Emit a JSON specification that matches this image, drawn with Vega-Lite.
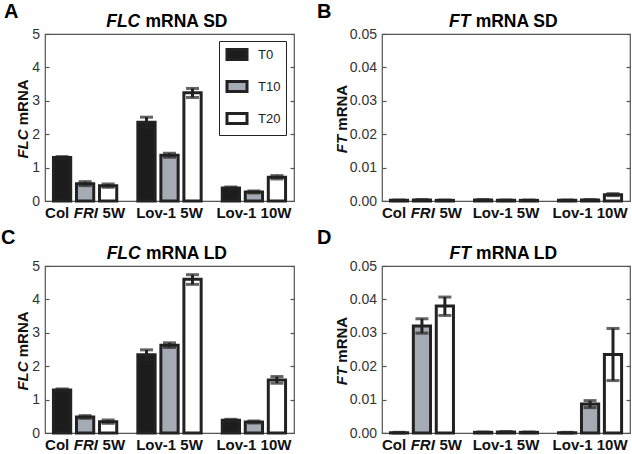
{
 "$schema": "https://vega.github.io/schema/vega-lite/v6.json",
 "padding": {"left": 0, "top": 1, "right": 0, "bottom": 0},
 "background": "white",
 "data": {"values": [
  {"p": "A", "g": "Col FRI 5W", "t": "T0", "m": 1.30, "lo": 1.27, "hi": 1.33},
  {"p": "A", "g": "Col FRI 5W", "t": "T10", "m": 0.52, "lo": 0.46, "hi": 0.58},
  {"p": "A", "g": "Col FRI 5W", "t": "T20", "m": 0.46, "lo": 0.41, "hi": 0.51},
  {"p": "A", "g": "Lov-1 5W", "t": "T0", "m": 2.36, "lo": 2.21, "hi": 2.51},
  {"p": "A", "g": "Lov-1 5W", "t": "T10", "m": 1.37, "lo": 1.31, "hi": 1.43},
  {"p": "A", "g": "Lov-1 5W", "t": "T20", "m": 3.24, "lo": 3.10, "hi": 3.37},
  {"p": "A", "g": "Lov-1 10W", "t": "T0", "m": 0.39, "lo": 0.36, "hi": 0.42},
  {"p": "A", "g": "Lov-1 10W", "t": "T10", "m": 0.27, "lo": 0.24, "hi": 0.30},
  {"p": "A", "g": "Lov-1 10W", "t": "T20", "m": 0.71, "lo": 0.66, "hi": 0.76},
  {"p": "B", "g": "Col FRI 5W", "t": "T0", "m": 0.0002, "lo": 0.0001, "hi": 0.0003},
  {"p": "B", "g": "Col FRI 5W", "t": "T10", "m": 0.0003, "lo": 0.0002, "hi": 0.0004},
  {"p": "B", "g": "Col FRI 5W", "t": "T20", "m": 0.0002, "lo": 0.0001, "hi": 0.0003},
  {"p": "B", "g": "Lov-1 5W", "t": "T0", "m": 0.0003, "lo": 0.0002, "hi": 0.0004},
  {"p": "B", "g": "Lov-1 5W", "t": "T10", "m": 0.0002, "lo": 0.0001, "hi": 0.0003},
  {"p": "B", "g": "Lov-1 5W", "t": "T20", "m": 0.0002, "lo": 0.0001, "hi": 0.0003},
  {"p": "B", "g": "Lov-1 10W", "t": "T0", "m": 0.0002, "lo": 0.0001, "hi": 0.0003},
  {"p": "B", "g": "Lov-1 10W", "t": "T10", "m": 0.0003, "lo": 0.0002, "hi": 0.0004},
  {"p": "B", "g": "Lov-1 10W", "t": "T20", "m": 0.0019, "lo": 0.0016, "hi": 0.0022},
  {"p": "C", "g": "Col FRI 5W", "t": "T0", "m": 1.29, "lo": 1.26, "hi": 1.32},
  {"p": "C", "g": "Col FRI 5W", "t": "T10", "m": 0.48, "lo": 0.44, "hi": 0.52},
  {"p": "C", "g": "Col FRI 5W", "t": "T20", "m": 0.34, "lo": 0.29, "hi": 0.39},
  {"p": "C", "g": "Lov-1 5W", "t": "T0", "m": 2.34, "lo": 2.19, "hi": 2.49},
  {"p": "C", "g": "Lov-1 5W", "t": "T10", "m": 2.63, "lo": 2.56, "hi": 2.70},
  {"p": "C", "g": "Lov-1 5W", "t": "T20", "m": 4.60, "lo": 4.45, "hi": 4.74},
  {"p": "C", "g": "Lov-1 10W", "t": "T0", "m": 0.38, "lo": 0.35, "hi": 0.41},
  {"p": "C", "g": "Lov-1 10W", "t": "T10", "m": 0.33, "lo": 0.30, "hi": 0.36},
  {"p": "C", "g": "Lov-1 10W", "t": "T20", "m": 1.59, "lo": 1.49, "hi": 1.69},
  {"p": "D", "g": "Col FRI 5W", "t": "T0", "m": 0.0001, "lo": 0.0000, "hi": 0.0002},
  {"p": "D", "g": "Col FRI 5W", "t": "T10", "m": 0.0320, "lo": 0.0299, "hi": 0.0342},
  {"p": "D", "g": "Col FRI 5W", "t": "T20", "m": 0.0380, "lo": 0.0352, "hi": 0.0407},
  {"p": "D", "g": "Lov-1 5W", "t": "T0", "m": 0.0002, "lo": 0.0001, "hi": 0.0003},
  {"p": "D", "g": "Lov-1 5W", "t": "T10", "m": 0.0003, "lo": 0.0002, "hi": 0.0004},
  {"p": "D", "g": "Lov-1 5W", "t": "T20", "m": 0.0002, "lo": 0.0001, "hi": 0.0003},
  {"p": "D", "g": "Lov-1 10W", "t": "T0", "m": 0.0001, "lo": 0.0000, "hi": 0.0002},
  {"p": "D", "g": "Lov-1 10W", "t": "T10", "m": 0.0087, "lo": 0.0076, "hi": 0.0097},
  {"p": "D", "g": "Lov-1 10W", "t": "T20", "m": 0.0235, "lo": 0.0157, "hi": 0.0313}
 ]},
 "columns": 2,
 "spacing": {"row": 65, "column": 88},
 "bounds": "flush",
 "resolve": {"scale": {"x": "independent", "y": "independent", "xOffset": "independent", "color": "independent"}},
 "concat": [
  {
   "width": 249, "height": 167,
   "title": {"text": "A", "anchor": "start", "frame": "group", "dx": -41, "dy": 10, "fontSize": 20, "fontWeight": "bold", "color": "#000", "offset": 0},
   "transform": [{"filter": "datum.p == 'A'"}],
   "resolve": {"axis": {"x": "independent", "y": "independent"}},
   "layer": [
    {
     "mark": {"type": "bar", "stroke": "#222", "strokeWidth": 3},
     "encoding": {
      "x": {"field": "g", "type": "nominal", "sort": ["Col FRI 5W", "Lov-1 5W", "Lov-1 10W"], "scale": {"paddingInner": 0.25, "paddingOuter": 0.1},
            "axis": {"orient": "bottom", "ticks": false, "labelExpr": "datum.value == 'Col FRI 5W' ? 'Col\u00a0\u00a0\u00a0\u00a0\u00a0\u00a0\u00a0\u00a05W' : datum.value", "labelAngle": 0, "labelFontSize": 15, "labelFontWeight": "bold", "labelColor": "#111", "labelPadding": 4, "title": null}},
      "xOffset": {"field": "t", "type": "nominal", "sort": ["T0", "T10", "T20"], "scale": {"paddingInner": 0.25}},
      "y": {"field": "m", "type": "quantitative", "scale": {"domain": [0, 5], "nice": false},
            "axis": {"orient": "left", "values": [0, 1, 2, 3, 4, 5], "tickSize": -4, "labelPadding": 9.5, "labelFontSize": 14, "labelColor": "#333", "title": "mRNA", "titleFontSize": 15, "titleFontWeight": "bold", "titleColor": "#111", "titleX": -18, "titleY": 67.8, "titleAngle": -90, "titleAlign": "center", "titleBaseline": "alphabetic"}},
      "color": {"field": "t", "type": "nominal", "scale": {"domain": ["T0", "T10", "T20"], "range": ["#1c1c1c", "#a6aab4", "#ffffff"]},
                "legend": {"orient": "none", "legendX": 174, "legendY": 7, "title": null, "symbolType": "M-1.43,-0.71H1.43V0.71H-1.43Z", "symbolSize": 196, "symbolStrokeColor": "#222", "symbolStrokeWidth": 3, "symbolOffset": 4.5, "labelOffset": 12.5, "rowPadding": 9, "padding": 5, "strokeColor": "#222", "fillColor": "white", "labelFont": "Liberation Sans", "labelFontSize": 13, "labelColor": "#222"}}
     }
    },
    {
     "mark": {"type": "rule", "color": "#222", "strokeWidth": 3},
     "encoding": {
      "x": {"field": "g", "type": "nominal", "sort": ["Col FRI 5W", "Lov-1 5W", "Lov-1 10W"], "scale": {"paddingInner": 0.25, "paddingOuter": 0.1},
            "axis": {"orient": "bottom", "ticks": false, "labelExpr": "datum.value == 'Col FRI 5W' ? 'FRI' : ''", "labelAngle": 0, "labelFontSize": 15, "labelFontWeight": "bold", "labelFontStyle": "italic", "labelColor": "#111", "labelPadding": 4, "labelOffset": 0.8, "title": null}},
      "xOffset": {"field": "t", "type": "nominal", "sort": ["T0", "T10", "T20"], "scale": {"paddingInner": 0.25}},
      "y": {"field": "lo", "type": "quantitative", "scale": {"domain": [0, 5], "nice": false},
            "axis": {"orient": "left", "labels": false, "ticks": false, "title": "FLC", "titleFontSize": 15, "titleFontWeight": "bold", "titleFontStyle": "italic", "titleColor": "#111", "titleX": -18, "titleY": 109.5, "titleAngle": -90, "titleAlign": "center", "titleBaseline": "alphabetic"}},
      "y2": {"field": "hi"}
     }
    },
    {
     "mark": {"type": "tick", "color": "#222", "thickness": 3, "size": 13},
     "encoding": {
      "x": {"field": "g", "type": "nominal", "sort": ["Col FRI 5W", "Lov-1 5W", "Lov-1 10W"], "scale": {"paddingInner": 0.25, "paddingOuter": 0.1},
            "axis": {"orient": "top", "ticks": false, "labels": false, "title": "FLC", "titleFontSize": 17.5, "titleFontWeight": "bold", "titleFontStyle": "italic", "titleColor": "#000", "titleX": 77.75, "titleY": -8, "titleAlign": "center", "titleBaseline": "alphabetic", "titleAngle": 0}},
      "xOffset": {"field": "t", "type": "nominal", "sort": ["T0", "T10", "T20"], "scale": {"paddingInner": 0.25}},
      "y": {"field": "hi", "type": "quantitative", "scale": {"domain": [0, 5], "nice": false},
            "axis": {"orient": "right", "values": [0, 1, 2, 3, 4, 5], "labels": false, "tickSize": -4, "title": null}}
     }
    },
    {
     "mark": {"type": "tick", "color": "#222", "thickness": 3, "size": 13},
     "encoding": {
      "x": {"field": "g", "type": "nominal", "sort": ["Col FRI 5W", "Lov-1 5W", "Lov-1 10W"], "scale": {"paddingInner": 0.25, "paddingOuter": 0.1},
            "axis": {"orient": "top", "ticks": false, "labels": false, "title": "mRNA SD", "titleFontSize": 17.5, "titleFontWeight": "bold", "titleColor": "#000", "titleX": 140.95, "titleY": -8, "titleAlign": "center", "titleBaseline": "alphabetic", "titleAngle": 0}},
      "xOffset": {"field": "t", "type": "nominal", "sort": ["T0", "T10", "T20"], "scale": {"paddingInner": 0.25}},
      "y": {"field": "lo", "type": "quantitative", "scale": {"domain": [0, 5], "nice": false}, "axis": null}
     }
    }
   ]
  },
  {
   "width": 248, "height": 167,
   "title": {"text": "B", "anchor": "start", "frame": "group", "dx": -65, "dy": 10, "fontSize": 20, "fontWeight": "bold", "color": "#000", "offset": 0},
   "transform": [{"filter": "datum.p == 'B'"}],
   "resolve": {"axis": {"x": "independent", "y": "independent"}},
   "layer": [
    {
     "mark": {"type": "bar", "stroke": "#222", "strokeWidth": 3},
     "encoding": {
      "x": {"field": "g", "type": "nominal", "sort": ["Col FRI 5W", "Lov-1 5W", "Lov-1 10W"], "scale": {"paddingInner": 0.25, "paddingOuter": 0.1},
            "axis": {"orient": "bottom", "ticks": false, "labelExpr": "datum.value == 'Col FRI 5W' ? 'Col\u00a0\u00a0\u00a0\u00a0\u00a0\u00a0\u00a0\u00a05W' : datum.value", "labelAngle": 0, "labelFontSize": 15, "labelFontWeight": "bold", "labelColor": "#111", "labelPadding": 4, "title": null}},
      "xOffset": {"field": "t", "type": "nominal", "sort": ["T0", "T10", "T20"], "scale": {"paddingInner": 0.25}},
      "y": {"field": "m", "type": "quantitative", "scale": {"domain": [0, 0.05], "nice": false},
            "axis": {"orient": "left", "values": [0, 0.01, 0.02, 0.03, 0.04, 0.05], "format": ".2f", "tickSize": -4, "labelPadding": 9.5, "labelFontSize": 14, "labelColor": "#333", "title": "mRNA", "titleFontSize": 15, "titleFontWeight": "bold", "titleColor": "#111", "titleX": -36, "titleY": 73.25, "titleAngle": -90, "titleAlign": "center", "titleBaseline": "alphabetic"}},
      "color": {"field": "t", "type": "nominal", "scale": {"domain": ["T0", "T10", "T20"], "range": ["#1c1c1c", "#a6aab4", "#ffffff"]}, "legend": null}
     }
    },
    {
     "mark": {"type": "rule", "color": "#222", "strokeWidth": 3},
     "encoding": {
      "x": {"field": "g", "type": "nominal", "sort": ["Col FRI 5W", "Lov-1 5W", "Lov-1 10W"], "scale": {"paddingInner": 0.25, "paddingOuter": 0.1},
            "axis": {"orient": "bottom", "ticks": false, "labelExpr": "datum.value == 'Col FRI 5W' ? 'FRI' : ''", "labelAngle": 0, "labelFontSize": 15, "labelFontWeight": "bold", "labelFontStyle": "italic", "labelColor": "#111", "labelPadding": 4, "labelOffset": 0.8, "title": null}},
      "xOffset": {"field": "t", "type": "nominal", "sort": ["T0", "T10", "T20"], "scale": {"paddingInner": 0.25}},
      "y": {"field": "lo", "type": "quantitative", "scale": {"domain": [0, 0.05], "nice": false},
            "axis": {"orient": "left", "labels": false, "ticks": false, "title": "FT", "titleFontSize": 15, "titleFontWeight": "bold", "titleFontStyle": "italic", "titleColor": "#111", "titleX": -36, "titleY": 109.5, "titleAngle": -90, "titleAlign": "center", "titleBaseline": "alphabetic"}},
      "y2": {"field": "hi"}
     }
    },
    {
     "mark": {"type": "tick", "color": "#222", "thickness": 3, "size": 13},
     "encoding": {
      "x": {"field": "g", "type": "nominal", "sort": ["Col FRI 5W", "Lov-1 5W", "Lov-1 10W"], "scale": {"paddingInner": 0.25, "paddingOuter": 0.1},
            "axis": {"orient": "top", "ticks": false, "labels": false, "title": "FT", "titleFontSize": 17.5, "titleFontWeight": "bold", "titleFontStyle": "italic", "titleColor": "#000", "titleX": 77.25, "titleY": -8, "titleAlign": "center", "titleBaseline": "alphabetic", "titleAngle": 0}},
      "xOffset": {"field": "t", "type": "nominal", "sort": ["T0", "T10", "T20"], "scale": {"paddingInner": 0.25}},
      "y": {"field": "hi", "type": "quantitative", "scale": {"domain": [0, 0.05], "nice": false},
            "axis": {"orient": "right", "values": [0, 0.01, 0.02, 0.03, 0.04, 0.05], "labels": false, "tickSize": -4, "title": null}}
     }
    },
    {
     "mark": {"type": "tick", "color": "#222", "thickness": 3, "size": 13},
     "encoding": {
      "x": {"field": "g", "type": "nominal", "sort": ["Col FRI 5W", "Lov-1 5W", "Lov-1 10W"], "scale": {"paddingInner": 0.25, "paddingOuter": 0.1},
            "axis": {"orient": "top", "ticks": false, "labels": false, "title": "mRNA SD", "titleFontSize": 17.5, "titleFontWeight": "bold", "titleColor": "#000", "titleX": 134.15, "titleY": -8, "titleAlign": "center", "titleBaseline": "alphabetic", "titleAngle": 0}},
      "xOffset": {"field": "t", "type": "nominal", "sort": ["T0", "T10", "T20"], "scale": {"paddingInner": 0.25}},
      "y": {"field": "lo", "type": "quantitative", "scale": {"domain": [0, 0.05], "nice": false}, "axis": null}
     }
    }
   ]
  },
  {
   "width": 249, "height": 167,
   "title": {"text": "C", "anchor": "start", "frame": "group", "dx": -44, "dy": 4, "fontSize": 20, "fontWeight": "bold", "color": "#000", "offset": 0},
   "transform": [{"filter": "datum.p == 'C'"}],
   "resolve": {"axis": {"x": "independent", "y": "independent"}},
   "layer": [
    {
     "mark": {"type": "bar", "stroke": "#222", "strokeWidth": 3},
     "encoding": {
      "x": {"field": "g", "type": "nominal", "sort": ["Col FRI 5W", "Lov-1 5W", "Lov-1 10W"], "scale": {"paddingInner": 0.25, "paddingOuter": 0.1},
            "axis": {"orient": "bottom", "ticks": false, "labelExpr": "datum.value == 'Col FRI 5W' ? 'Col\u00a0\u00a0\u00a0\u00a0\u00a0\u00a0\u00a0\u00a05W' : datum.value", "labelAngle": 0, "labelFontSize": 15, "labelFontWeight": "bold", "labelColor": "#111", "labelPadding": 4, "title": null}},
      "xOffset": {"field": "t", "type": "nominal", "sort": ["T0", "T10", "T20"], "scale": {"paddingInner": 0.25}},
      "y": {"field": "m", "type": "quantitative", "scale": {"domain": [0, 5], "nice": false},
            "axis": {"orient": "left", "values": [0, 1, 2, 3, 4, 5], "tickSize": -4, "labelPadding": 9.5, "labelFontSize": 14, "labelColor": "#333", "title": "mRNA", "titleFontSize": 15, "titleFontWeight": "bold", "titleColor": "#111", "titleX": -18, "titleY": 67.8, "titleAngle": -90, "titleAlign": "center", "titleBaseline": "alphabetic"}},
      "color": {"field": "t", "type": "nominal", "scale": {"domain": ["T0", "T10", "T20"], "range": ["#1c1c1c", "#a6aab4", "#ffffff"]}, "legend": null}
     }
    },
    {
     "mark": {"type": "rule", "color": "#222", "strokeWidth": 3},
     "encoding": {
      "x": {"field": "g", "type": "nominal", "sort": ["Col FRI 5W", "Lov-1 5W", "Lov-1 10W"], "scale": {"paddingInner": 0.25, "paddingOuter": 0.1},
            "axis": {"orient": "bottom", "ticks": false, "labelExpr": "datum.value == 'Col FRI 5W' ? 'FRI' : ''", "labelAngle": 0, "labelFontSize": 15, "labelFontWeight": "bold", "labelFontStyle": "italic", "labelColor": "#111", "labelPadding": 4, "labelOffset": 0.8, "title": null}},
      "xOffset": {"field": "t", "type": "nominal", "sort": ["T0", "T10", "T20"], "scale": {"paddingInner": 0.25}},
      "y": {"field": "lo", "type": "quantitative", "scale": {"domain": [0, 5], "nice": false},
            "axis": {"orient": "left", "labels": false, "ticks": false, "title": "FLC", "titleFontSize": 15, "titleFontWeight": "bold", "titleFontStyle": "italic", "titleColor": "#111", "titleX": -18, "titleY": 109.5, "titleAngle": -90, "titleAlign": "center", "titleBaseline": "alphabetic"}},
      "y2": {"field": "hi"}
     }
    },
    {
     "mark": {"type": "tick", "color": "#222", "thickness": 3, "size": 13},
     "encoding": {
      "x": {"field": "g", "type": "nominal", "sort": ["Col FRI 5W", "Lov-1 5W", "Lov-1 10W"], "scale": {"paddingInner": 0.25, "paddingOuter": 0.1},
            "axis": {"orient": "top", "ticks": false, "labels": false, "title": "FLC", "titleFontSize": 17.5, "titleFontWeight": "bold", "titleFontStyle": "italic", "titleColor": "#000", "titleX": 78.2, "titleY": -8, "titleAlign": "center", "titleBaseline": "alphabetic", "titleAngle": 0}},
      "xOffset": {"field": "t", "type": "nominal", "sort": ["T0", "T10", "T20"], "scale": {"paddingInner": 0.25}},
      "y": {"field": "hi", "type": "quantitative", "scale": {"domain": [0, 5], "nice": false},
            "axis": {"orient": "right", "values": [0, 1, 2, 3, 4, 5], "labels": false, "tickSize": -4, "title": null}}
     }
    },
    {
     "mark": {"type": "tick", "color": "#222", "thickness": 3, "size": 13},
     "encoding": {
      "x": {"field": "g", "type": "nominal", "sort": ["Col FRI 5W", "Lov-1 5W", "Lov-1 10W"], "scale": {"paddingInner": 0.25, "paddingOuter": 0.1},
            "axis": {"orient": "top", "ticks": false, "labels": false, "title": "mRNA LD", "titleFontSize": 17.5, "titleFontWeight": "bold", "titleColor": "#000", "titleX": 140.95, "titleY": -8, "titleAlign": "center", "titleBaseline": "alphabetic", "titleAngle": 0}},
      "xOffset": {"field": "t", "type": "nominal", "sort": ["T0", "T10", "T20"], "scale": {"paddingInner": 0.25}},
      "y": {"field": "lo", "type": "quantitative", "scale": {"domain": [0, 5], "nice": false}, "axis": null}
     }
    }
   ]
  },
  {
   "width": 248, "height": 167,
   "title": {"text": "D", "anchor": "start", "frame": "group", "dx": -65, "dy": 4, "fontSize": 20, "fontWeight": "bold", "color": "#000", "offset": 0},
   "transform": [{"filter": "datum.p == 'D'"}],
   "resolve": {"axis": {"x": "independent", "y": "independent"}},
   "layer": [
    {
     "mark": {"type": "bar", "stroke": "#222", "strokeWidth": 3},
     "encoding": {
      "x": {"field": "g", "type": "nominal", "sort": ["Col FRI 5W", "Lov-1 5W", "Lov-1 10W"], "scale": {"paddingInner": 0.25, "paddingOuter": 0.1},
            "axis": {"orient": "bottom", "ticks": false, "labelExpr": "datum.value == 'Col FRI 5W' ? 'Col\u00a0\u00a0\u00a0\u00a0\u00a0\u00a0\u00a0\u00a05W' : datum.value", "labelAngle": 0, "labelFontSize": 15, "labelFontWeight": "bold", "labelColor": "#111", "labelPadding": 4, "title": null}},
      "xOffset": {"field": "t", "type": "nominal", "sort": ["T0", "T10", "T20"], "scale": {"paddingInner": 0.25}},
      "y": {"field": "m", "type": "quantitative", "scale": {"domain": [0, 0.05], "nice": false},
            "axis": {"orient": "left", "values": [0, 0.01, 0.02, 0.03, 0.04, 0.05], "format": ".2f", "tickSize": -4, "labelPadding": 9.5, "labelFontSize": 14, "labelColor": "#333", "title": "mRNA", "titleFontSize": 15, "titleFontWeight": "bold", "titleColor": "#111", "titleX": -36, "titleY": 73.25, "titleAngle": -90, "titleAlign": "center", "titleBaseline": "alphabetic"}},
      "color": {"field": "t", "type": "nominal", "scale": {"domain": ["T0", "T10", "T20"], "range": ["#1c1c1c", "#a6aab4", "#ffffff"]}, "legend": null}
     }
    },
    {
     "mark": {"type": "rule", "color": "#222", "strokeWidth": 3},
     "encoding": {
      "x": {"field": "g", "type": "nominal", "sort": ["Col FRI 5W", "Lov-1 5W", "Lov-1 10W"], "scale": {"paddingInner": 0.25, "paddingOuter": 0.1},
            "axis": {"orient": "bottom", "ticks": false, "labelExpr": "datum.value == 'Col FRI 5W' ? 'FRI' : ''", "labelAngle": 0, "labelFontSize": 15, "labelFontWeight": "bold", "labelFontStyle": "italic", "labelColor": "#111", "labelPadding": 4, "labelOffset": 0.8, "title": null}},
      "xOffset": {"field": "t", "type": "nominal", "sort": ["T0", "T10", "T20"], "scale": {"paddingInner": 0.25}},
      "y": {"field": "lo", "type": "quantitative", "scale": {"domain": [0, 0.05], "nice": false},
            "axis": {"orient": "left", "labels": false, "ticks": false, "title": "FT", "titleFontSize": 15, "titleFontWeight": "bold", "titleFontStyle": "italic", "titleColor": "#111", "titleX": -36, "titleY": 109.5, "titleAngle": -90, "titleAlign": "center", "titleBaseline": "alphabetic"}},
      "y2": {"field": "hi"}
     }
    },
    {
     "mark": {"type": "tick", "color": "#222", "thickness": 3, "size": 13},
     "encoding": {
      "x": {"field": "g", "type": "nominal", "sort": ["Col FRI 5W", "Lov-1 5W", "Lov-1 10W"], "scale": {"paddingInner": 0.25, "paddingOuter": 0.1},
            "axis": {"orient": "top", "ticks": false, "labels": false, "title": "FT", "titleFontSize": 17.5, "titleFontWeight": "bold", "titleFontStyle": "italic", "titleColor": "#000", "titleX": 77.7, "titleY": -8, "titleAlign": "center", "titleBaseline": "alphabetic", "titleAngle": 0}},
      "xOffset": {"field": "t", "type": "nominal", "sort": ["T0", "T10", "T20"], "scale": {"paddingInner": 0.25}},
      "y": {"field": "hi", "type": "quantitative", "scale": {"domain": [0, 0.05], "nice": false},
            "axis": {"orient": "right", "values": [0, 0.01, 0.02, 0.03, 0.04, 0.05], "labels": false, "tickSize": -4, "title": null}}
     }
    },
    {
     "mark": {"type": "tick", "color": "#222", "thickness": 3, "size": 13},
     "encoding": {
      "x": {"field": "g", "type": "nominal", "sort": ["Col FRI 5W", "Lov-1 5W", "Lov-1 10W"], "scale": {"paddingInner": 0.25, "paddingOuter": 0.1},
            "axis": {"orient": "top", "ticks": false, "labels": false, "title": "mRNA LD", "titleFontSize": 17.5, "titleFontWeight": "bold", "titleColor": "#000", "titleX": 134.1, "titleY": -8, "titleAlign": "center", "titleBaseline": "alphabetic", "titleAngle": 0}},
      "xOffset": {"field": "t", "type": "nominal", "sort": ["T0", "T10", "T20"], "scale": {"paddingInner": 0.25}},
      "y": {"field": "lo", "type": "quantitative", "scale": {"domain": [0, 0.05], "nice": false}, "axis": null}
     }
    }
   ]
  }
 ],
 "config": {
  "font": "Liberation Sans",
  "view": {"stroke": "#555", "strokeWidth": 1.2},
  "axis": {"grid": false, "domain": false, "labelFont": "Liberation Sans", "titleFont": "Liberation Sans", "tickColor": "#555", "tickWidth": 1.2},
  "title": {"font": "Liberation Sans"}
 }
}
